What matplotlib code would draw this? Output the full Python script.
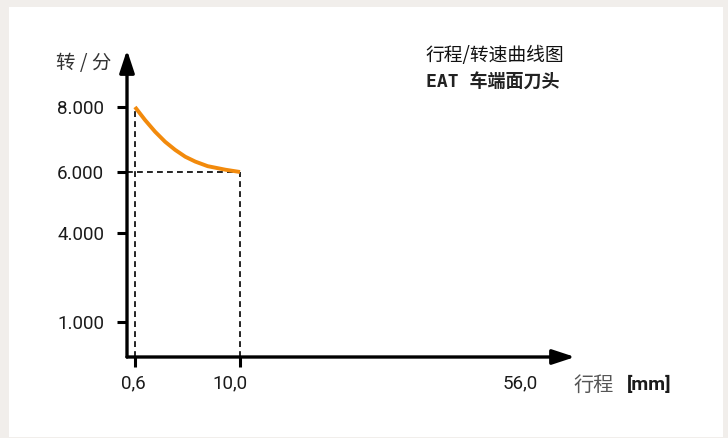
import numpy as np
import matplotlib
matplotlib.use("Agg")
import matplotlib.pyplot as plt
from matplotlib.patches import Rectangle
from matplotlib.transforms import ScaledTranslation

# ---- data -------------------------------------------------------------
stroke_mm = [0.6, 1.5, 2.4, 3.3, 4.2, 5.1, 6.0, 7.1, 8.7, 10.0]
speed_rpm = [8000, 7600, 7240, 6930, 6680, 6470, 6320, 6180, 6070, 6000]

y_ticks = [1000, 4000, 6000, 8000]
y_tick_labels = ["1.000", "4.000", "6.000", "8.000"]
x_ticks = [0.6, 10.0, 56.0]
x_tick_labels = ["0,6", "10,0", "56,0"]

title_lines = ["行程/转速曲线图", "EAT 车端面刀头"]
y_label = "转 / 分"
x_label = "行程"
x_unit = "[mm]"

# ---- figure -----------------------------------------------------------
W, H = 728, 438
fig = plt.figure(figsize=(W / 100, H / 100), dpi=100)
fig.patch.set_facecolor("#f1eeeb")
fig.patches.append(Rectangle((9 / W, 1 - 437 / H), (723 - 9) / W, (437 - 7) / H,
                             transform=fig.transFigure, facecolor="white",
                             edgecolor="none", zorder=-10))

ax_left, ax_right, ax_top, ax_bottom = 127, 575, 50, 357
ax = fig.add_axes([ax_left / W, 1 - ax_bottom / H,
                   (ax_right - ax_left) / W, (ax_bottom - ax_top) / H])
ax.set_facecolor("none")
ax.set_zorder(5)

# schematic (piecewise-linear) scales: short stroke range is stretched
xk_v = np.array([-5.0, 10.0, 56.0, 100.0])
xk_p = np.array([-54.6, 113.0, 393.0, 660.8])
yk_v = np.array([-2000.0, 1000.0, 4000.0, 6000.0, 8000.0, 12000.0])
yk_p = np.array([-54.0, 35.0, 124.0, 185.0, 250.0, 380.0])

ax.set_xscale("function", functions=(lambda v: np.interp(v, xk_v, xk_p),
                                     lambda p: np.interp(p, xk_p, xk_v)))
ax.set_yscale("function", functions=(lambda v: np.interp(v, yk_v, yk_p),
                                     lambda p: np.interp(p, yk_p, yk_v)))
x0 = float(np.interp(0, xk_p, xk_v))
x1 = float(np.interp(ax_right - ax_left, xk_p, xk_v))
y0 = float(np.interp(0, yk_p, yk_v))
y1 = float(np.interp(ax_bottom - ax_top, yk_p, yk_v))
ax.set_xlim(x0, x1)
ax.set_ylim(y0, y1)

for s in ax.spines.values():
    s.set_visible(False)

# axes with arrow heads
arrow_kw = dict(arrowstyle="-|>,head_length=0.85,head_width=0.28", lw=2.4,
                color="black", shrinkA=0, shrinkB=0, mutation_scale=16)
ax.annotate("", xy=(1, 0), xytext=(0, 0), xycoords="axes fraction",
            arrowprops=arrow_kw)
ax.annotate("", xy=(0, 1), xytext=(0, 0), xycoords="axes fraction",
            arrowprops=arrow_kw)

# dashed guide lines
dash = dict(color="black", lw=1.2, ls=(0, (3.5, 2.5)))
ax.plot([stroke_mm[0], stroke_mm[0]], [y0, speed_rpm[0]], **dash)
ax.plot([stroke_mm[-1], stroke_mm[-1]], [y0, speed_rpm[-1]], **dash)
ax.plot([x0, stroke_mm[-1]], [speed_rpm[-1], speed_rpm[-1]], **dash)

# speed curve
ax.plot(stroke_mm, speed_rpm, color="#f28a0c", lw=2.8,
        solid_capstyle="butt", solid_joinstyle="round", zorder=5)

# ticks
ax.set_yticks(y_ticks)
ax.set_yticklabels(y_tick_labels, fontsize=13.5, family="Roboto", color="#1a1a1a")
ax.tick_params(axis="y", direction="out", length=7.5, width=2.2, pad=9)
ax.set_xticks(x_ticks[:2])
ax.set_xticklabels([])
ax.tick_params(axis="x", direction="out", length=7.5, width=2.2)

label_dx = [-2, -10, 0]
for xv, lab, dx in zip(x_ticks, x_tick_labels, label_dx):
    tr = ax.get_xaxis_transform() + ScaledTranslation(dx / 100, -26 / 100,
                                                      fig.dpi_scale_trans)
    ax.text(xv, 0, lab, transform=tr, ha="center", va="center",
            fontsize=13.5, family="Roboto", color="#1a1a1a")

# axis captions
fig.text(56 / W, 1 - 64 / H, y_label, fontsize=14,
         family=["Noto Sans CJK SC", "DejaVu Sans"], color="#333333",
         ha="left", va="center")
fig.text(573 / W, 1 - 385 / H, x_label, fontsize=14.5,
         family=["Noto Sans CJK SC", "DejaVu Sans"], color="#555555",
         ha="left", va="center")
fig.text(627 / W, 1 - 385 / H, x_unit, fontsize=14, family="Roboto",
         fontweight="bold", color="#1a1a1a", ha="left", va="center")

# title block
fig.text(426 / W, 1 - 56 / H, title_lines[0], fontsize=13.5,
         family=["Noto Sans CJK SC", "DejaVu Sans"], color="#111111",
         ha="left", va="center")
fig.text(426 / W, 1 - 82 / H, title_lines[1], fontsize=13,
         family=["DejaVu Sans Mono", "Noto Sans CJK SC"], fontweight="bold",
         color="#222222", ha="left", va="center")

fig.savefig("out.png", dpi=100, facecolor=fig.get_facecolor())
